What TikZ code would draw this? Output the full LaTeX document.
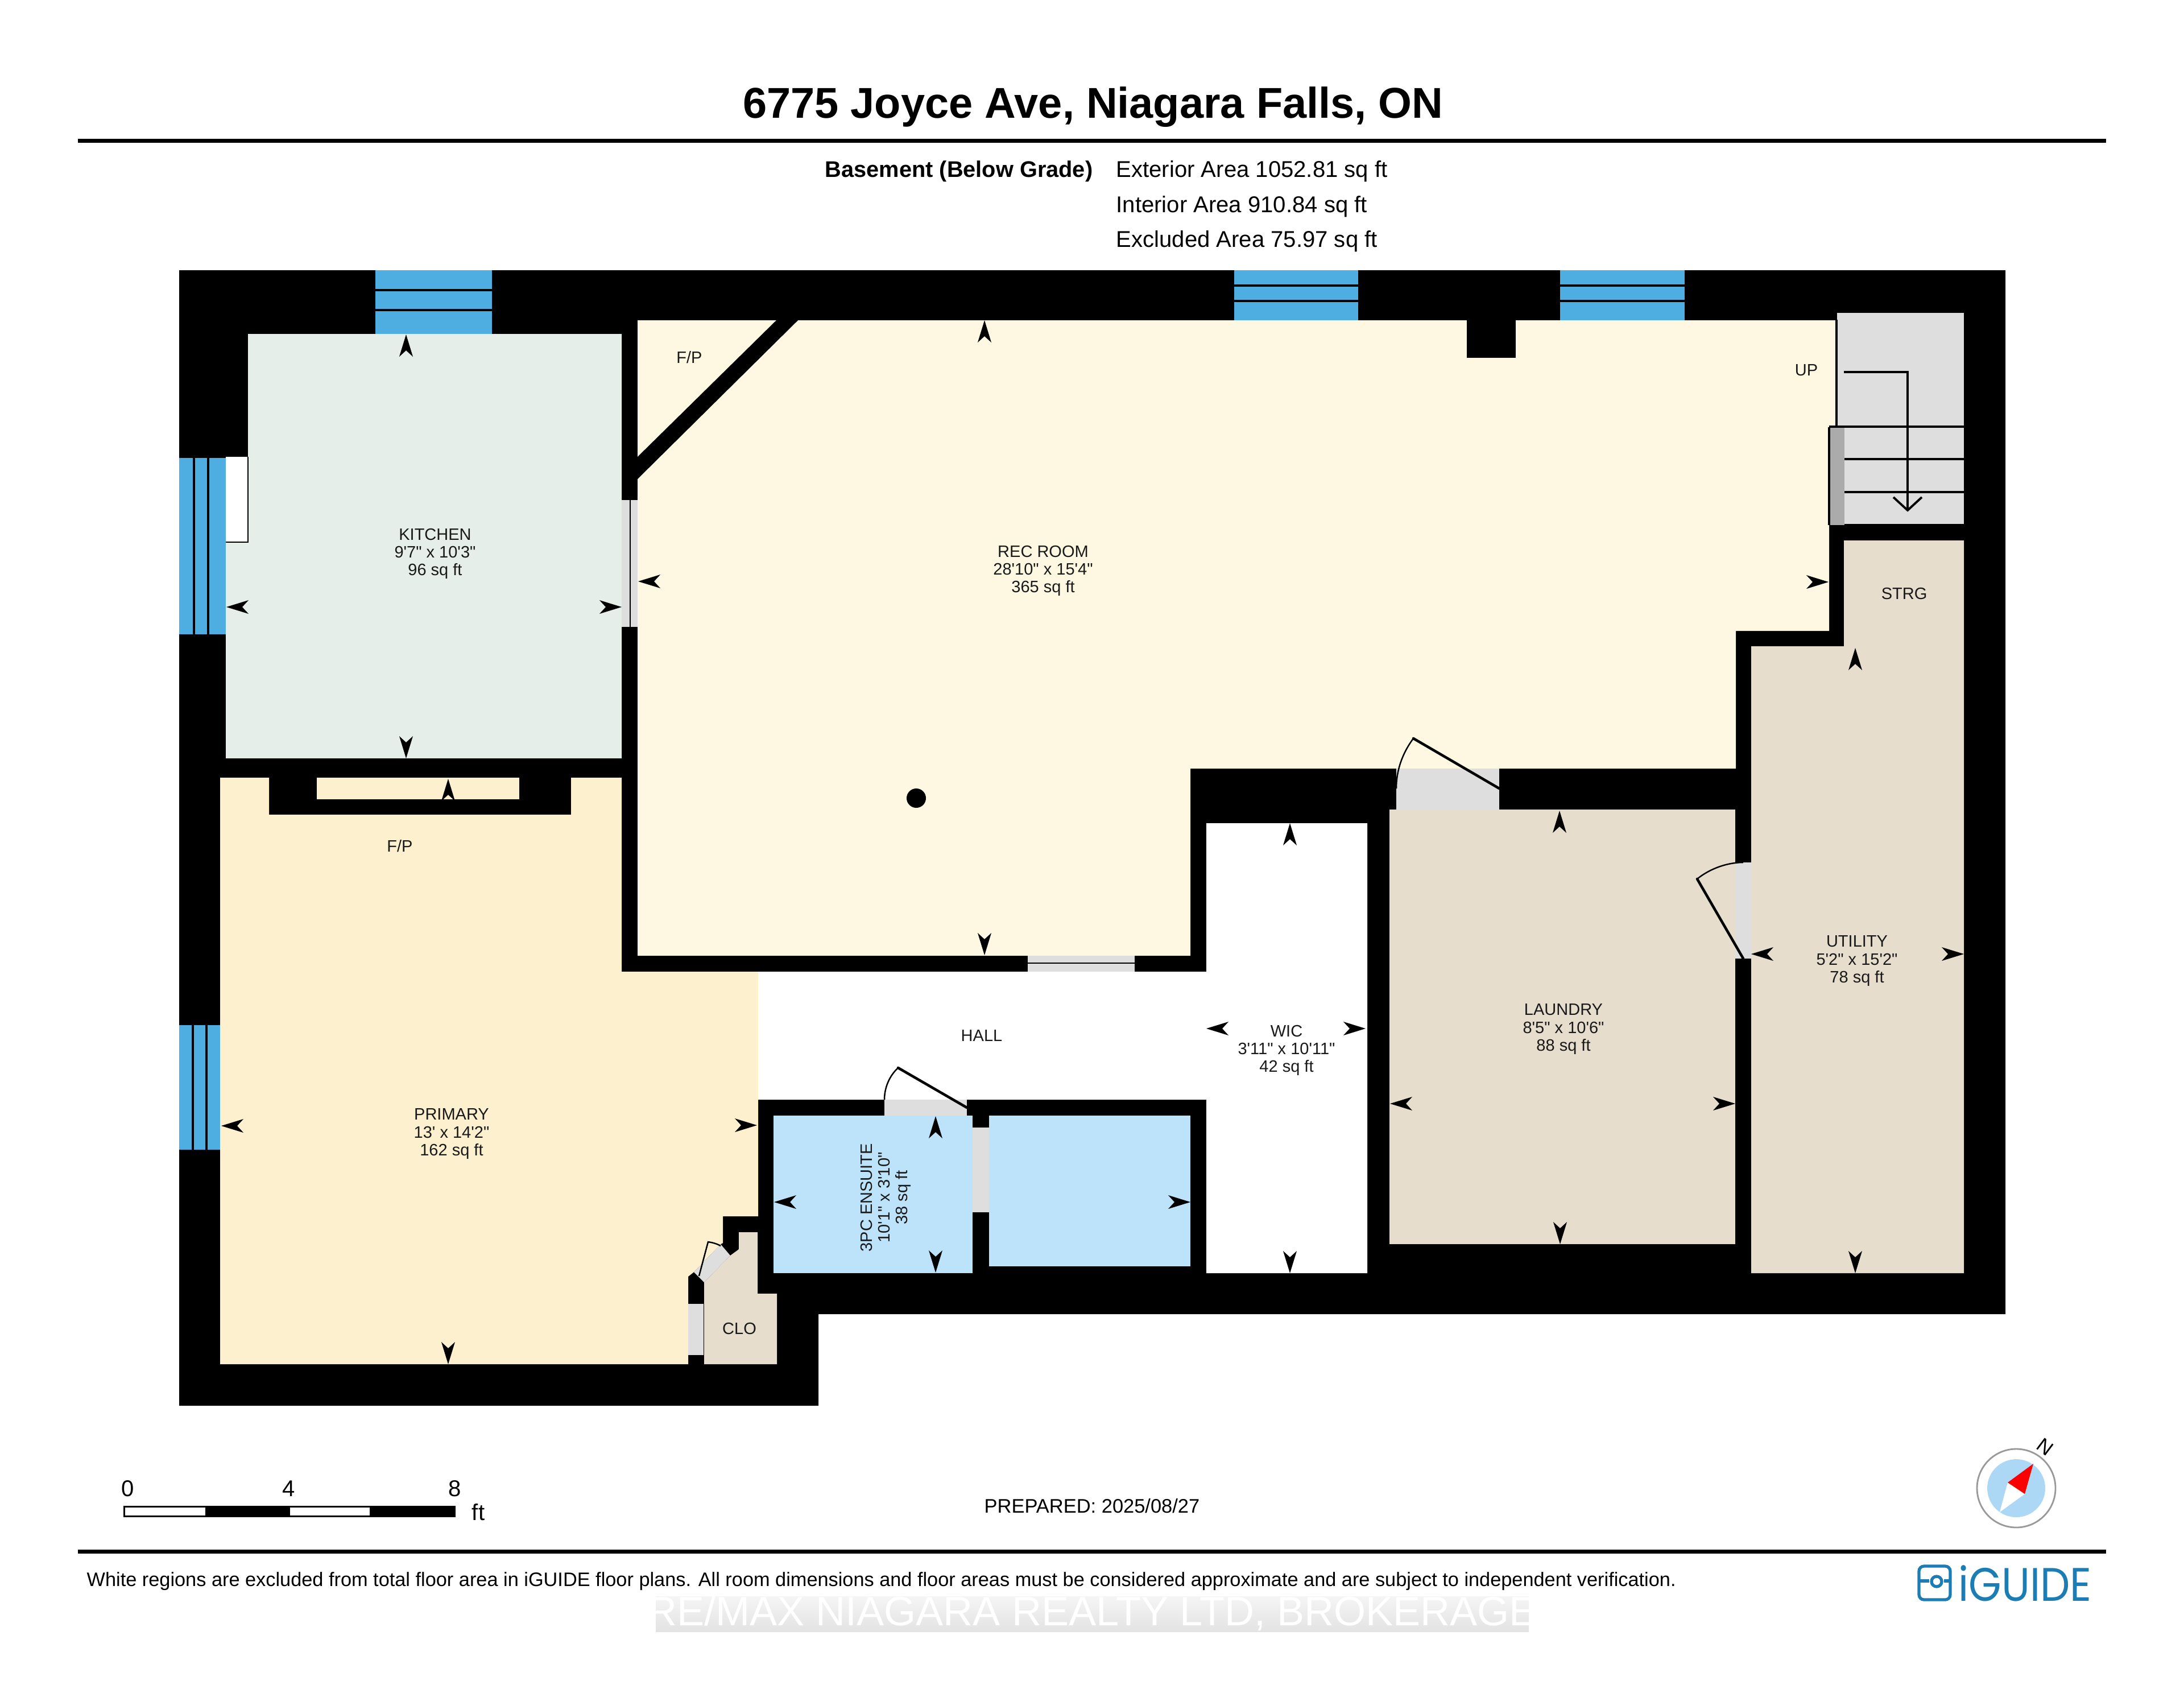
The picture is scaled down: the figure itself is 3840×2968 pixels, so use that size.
\documentclass[tikz,border=0pt]{standalone}
\usepackage{fontspec}
\setmainfont{Liberation Sans}
\newfontfamily\plainfont{Liberation Sans}
\newfontfamily\logofont{Poppins}
\definecolor{wallc}{HTML}{000000}
\definecolor{winc}{HTML}{4EAEE2}
\definecolor{kitc}{HTML}{E6EEE9}
\definecolor{recc}{HTML}{FEF8E2}
\definecolor{pric}{HTML}{FDF0CE}
\definecolor{bathc}{HTML}{BDE3FB}
\definecolor{tanc}{HTML}{E6DDCC}
\definecolor{doorc}{HTML}{DEDEDE}
\definecolor{railc}{HTML}{ABABAB}
\definecolor{logoc}{HTML}{1C7DB4}
\definecolor{compc}{HTML}{ADD8F5}
\newcommand\tipmark[3]{\fill[black,shift={(#1,#2)},rotate=#3] (0,0)--(-39,12)--(-28,0)--(-39,-12)--cycle;}
\tikzset{
  roomlabel/.style={inner sep=0pt,align=center,yshift=-0.04cm,text=black!90,font=\plainfont\fontsize{8.25}{8.85}\selectfont},
  infotext/.style={inner sep=0pt,font=\fontsize{11.4}{12}\selectfont},
  leaf/.style={draw=black,line width=1.3pt,line cap=round,line join=round},
  swing/.style={draw=black,line width=0.7pt},
  winbar/.style={draw=black,line width=1.4pt},
  rule/.style={draw=black,line width=2pt},
  treads/.style={draw=black,line width=1.1pt},
}
\begin{document}
\begin{tikzpicture}[x=0.01cm,y=-0.01cm]
\useasboundingbox (0,0) rectangle (3840,2968);
\fill[white] (0,0) rectangle (3840,2968);
% outer walls
\fill[black] (315,475)--(3526,475)--(3526,2310)--(1439,2310)--(1439,2471)--(315,2471)--cycle;
% rooms
\fill[kitc] (436,587)--(1093,587)--(1093,1333)--(397,1333)--(397,953)--(436,953)--cycle;
\fill[white] (397,803) rectangle (436,953);
\draw[black,line width=0.8pt] (436,803)--(436,953)--(397,953);
\fill[recc] (1121,563)--(3227,563)--(3227,750)--(3216,750)--(3216,1109)--(3052,1109)--(3052,1351)--(2093,1351)--(2093,1680)--(1121,1680)--cycle;
\fill[black] (1121,803)--(1365,563)--(1403,563)--(1121,842)--cycle;
\fill[black] (2579,563) rectangle (2665,629);
\fill[black] (1611,1403) circle (17);
\fill[pric] (387,1367)--(473,1367)--(473,1432)--(1004,1432)--(1004,1367)--(1093,1367)--(1093,1708)--(1333,1708)--(1333,2138)--(1271,2138)--(1271,2185)--(1267,2187)--(1220,2236)--(1210,2244)--(1210,2398)--(387,2398)--cycle;
\fill[pric] (557,1367) rectangle (913,1405);
\fill[white] (1335,1708)--(2121,1708)--(2121,1447)--(2404,1447)--(2404,2238)--(2121,2238)--(2121,1933)--(1333,1933)--(1333,1708)--cycle;
\fill[bathc] (1360,1961) rectangle (1710,2238);
\fill[bathc] (1739,1961) rectangle (2093,2226);
\fill[tanc] (2443,1423) rectangle (3051,2187);
\fill[tanc] (3242,950)--(3453,950)--(3453,2238)--(3079,2238)--(3079,1136)--(3242,1136)--cycle;
\fill[tanc] (1299,2166)--(1332,2166)--(1332,2274)--(1366,2274)--(1366,2398)--(1238,2398)--(1238,2254)--(1284,2207)--(1299,2196)--cycle;
% stairs
\fill[doorc] (3230,550) rectangle (3453,921);
\fill[railc] (3216,751) rectangle (3243,923);
\draw[treads] (3229,562)--(3229,750);
\draw[treads] (3216,750)--(3453,750) (3243,807)--(3453,807) (3243,865)--(3453,865);
\draw[treads] (3216,751)--(3216,923);
\draw[treads,line join=miter] (3242,654)--(3354,654)--(3354,897);
\draw[treads,line join=miter] (3329,874)--(3354,897)--(3379,874);
% windows
\fill[winc] (660,475) rectangle (865,587);
\draw[winbar] (660,510)--(865,510) (660,545)--(865,545);
\fill[winc] (315,805) rectangle (397,1115);
\draw[winbar] (341,805)--(341,1115) (366,805)--(366,1115);
\fill[winc] (2170,475) rectangle (2388,563);
\draw[winbar] (2170,502)--(2388,502) (2170,529)--(2388,529);
\fill[winc] (2743,475) rectangle (2962,563);
\draw[winbar] (2743,502)--(2962,502) (2743,529)--(2962,529);
\fill[winc] (315,1802) rectangle (387,2021);
\draw[winbar] (339,1802)--(339,2021) (363,1802)--(363,2021);
% door openings
\fill[doorc] (1093,879) rectangle (1121,1102);
\draw[black,line width=0.6pt] (1108,879)--(1108,1102);
\fill[doorc] (1807,1680) rectangle (1995,1708);
\draw[black,line width=0.6pt] (1807,1693)--(1995,1693);
\fill[doorc] (2455,1351) rectangle (2636,1423);
\fill[doorc] (3051,1516) rectangle (3079,1685);
\fill[doorc] (1555,1933) rectangle (1700,1961);
\fill[doorc] (1710,1982) rectangle (1739,2131);
\fill[doorc] (1210,2292) rectangle (1237,2382);
\fill[doorc] (1284,2207)--(1238,2254)--(1220,2236)--(1267,2187)--cycle;
% door leaves
\draw[leaf] (2636,1386)--(2485,1298);
\draw[swing] (2485,1298) .. controls (2465,1325) and (2455,1355) .. (2455,1386);
\draw[leaf] (3065,1685)--(2984,1545);
\draw[swing] (2984,1545) .. controls (3005,1528) and (3035,1516) .. (3065,1516);
\draw[leaf] (1700,1947)--(1579,1877);
\draw[swing] (1579,1877) .. controls (1565,1890) and (1555,1910) .. (1555,1933);
\draw[swing] (1229,2243)--(1245,2183) .. controls (1252,2184) and (1260,2186) .. (1267,2190);
% dimension marks
\tipmark{714}{588}{90}\tipmark{714}{1333}{-90}\tipmark{398}{1067}{180}\tipmark{1093}{1067}{0}
\tipmark{1122}{1022}{180}\tipmark{3215}{1023}{0}\tipmark{1731}{563}{90}\tipmark{1731}{1679}{-90}
\tipmark{389}{1979}{180}\tipmark{1331}{1978}{0}\tipmark{788}{2398}{-90}\tipmark{788}{1369}{90}
\tipmark{1361}{2113}{180}\tipmark{2093}{2113}{0}\tipmark{1645}{1962}{90}\tipmark{1645}{2237}{-90}
\tipmark{2268}{1447}{90}\tipmark{2268}{2238}{-90}\tipmark{2121}{1808}{180}\tipmark{2401}{1808}{0}
\tipmark{2742}{1425}{90}\tipmark{2743}{2187}{-90}\tipmark{2444}{1940}{180}\tipmark{3051}{1940}{0}
\tipmark{3079}{1677}{180}\tipmark{3453}{1677}{0}\tipmark{3262}{1139}{90}\tipmark{3262}{2238}{-90}
% room labels
\node[roomlabel] (kitchen) at (765,969) {KITCHEN\\9'7" x 10'3"\\96 sq ft};
\node[roomlabel] (rec) at (1834,999) {REC ROOM\\28'10" x 15'4"\\365 sq ft};
\node[roomlabel] (fp1) at (1212,624) {F/P};
\node[roomlabel] (fp2) at (703,1483) {F/P};
\node[roomlabel] (up) at (3176,647) {UP};
\node[roomlabel] (strg) at (3348,1039) {STRG};
\node[roomlabel] (primary) at (794,1989) {PRIMARY\\13' x 14'2"\\162 sq ft};
\node[roomlabel] (hall) at (1726,1816) {HALL};
\node[roomlabel] (wic) at (2262,1842) {WIC\\3'11" x 10'11"\\42 sq ft};
\node[roomlabel,rotate=90] (ens) at (1557,2101) {3PC ENSUITE\\10'1" x 3'10"\\38 sq ft};
\node[roomlabel] (clo) at (1300,2331) {CLO};
\node[roomlabel] (laundry) at (2749,1805) {LAUNDRY\\8'5" x 10'6"\\88 sq ft};
\node[roomlabel] (utility) at (3265,1685) {UTILITY\\5'2" x 15'2"\\78 sq ft};
% header
\node[inner sep=0pt,font=\fontsize{21.55}{24}\bfseries\selectfont] (title) at (1922,188) {6775 Joyce Ave, Niagara Falls, ON};
\draw[rule] (137,247)--(3703,247);
\node[infotext,anchor=east,font=\fontsize{11.3}{12}\bfseries\selectfont] (basement) at (1922,301) {Basement (Below Grade)};
\node[infotext,anchor=west] (ext) at (1962,301) {Exterior Area 1052.81 sq ft};
\node[infotext,anchor=west] (int) at (1962,363) {Interior Area 910.84 sq ft};
\node[infotext,anchor=west] (excl) at (1962,424) {Excluded Area 75.97 sq ft};
% scale bar
\fill[black] (217,2647) rectangle (801,2667);
\fill[white] (220,2650) rectangle (361,2664);
\fill[white] (510,2650) rectangle (650,2664);
\node[infotext] (s0) at (225,2617) {0};
\node[infotext] (s4) at (508,2617) {4};
\node[infotext] (s8) at (800,2617) {8};
\node[infotext] (sft) at (841,2658) {ft};
\node[infotext,font=\fontsize{9.8}{12}\selectfont] (prep) at (1920,2647) {PREPARED: 2025/08/27};
% compass
\fill[white] (3545,2616) circle (69);
\draw[black!40,line width=0.8pt] (3545,2616) circle (69);
\fill[compc] (3545,2616) circle (51);
\fill[white] (3516,2658)--(3530,2606)--(3560,2626)--cycle;
\fill[red] (3575,2573)--(3530,2606)--(3560,2626)--cycle;
\node[inner sep=0pt,rotate=-37,font=\fontsize{10}{11}\selectfont] (north) at (3596,2543) {N};
% footer
\draw[rule] (137,2727)--(3703,2727);
\node[inner sep=0pt,anchor=west,font=\fontsize{9.76}{11}\selectfont] (foot) at (152,2780) {White regions are excluded from total floor area in iGUIDE floor plans. All room dimensions and floor areas must be considered approximate and are subject to independent verification.};
% logo
\draw[logoc,line width=1.5pt,rounded corners=2.5pt] (3374,2753) rectangle (3429,2812);
\draw[logoc,line width=1.5pt] (3374,2779)--(3392,2779) (3418,2779)--(3429,2779);
\draw[logoc,line width=1.5pt] (3405,2780) circle (9);
\node[inner sep=0pt,anchor=west,xscale=0.895,text=logoc,font=\fontsize{23.5}{25}\logofont\selectfont] (logo) at (3443,2783) {iGUIDE};
% watermark
\shade[top color=white!96!black,bottom color=white!89!black] (1153,2806) rectangle (2688,2868);
\node[inner sep=0pt,text=white,font=\fontsize{20.5}{22}\selectfont] (mark) at (1920,2836) {RE/MAX NIAGARA REALTY LTD, BROKERAGE};
\end{tikzpicture}
\end{document}
